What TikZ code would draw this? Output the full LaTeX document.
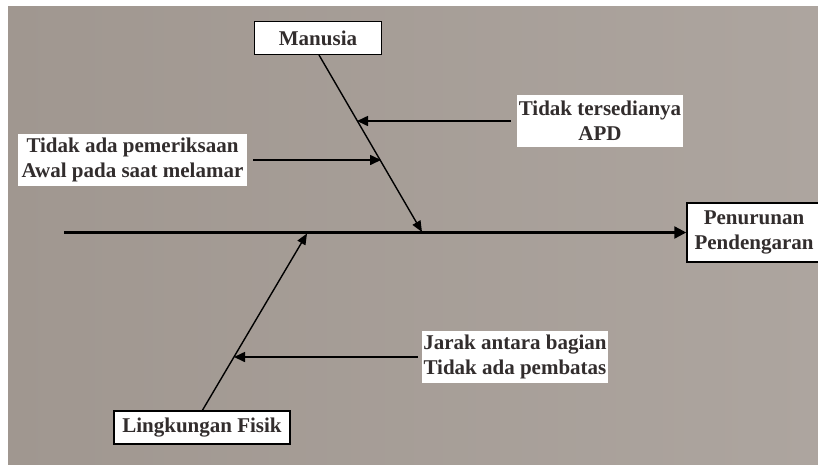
\documentclass[tikz,border=0pt]{standalone}
\usepackage{fontspec}
\setmainfont{Liberation Serif}
\usetikzlibrary{arrows.meta,calc}
\definecolor{bgleft}{RGB}{160,151,144}
\definecolor{bgright}{RGB}{173,165,159}
\definecolor{inkc}{RGB}{50,45,45}
\tikzset{
  lbl/.style={font=\fontsize{21}{25}\selectfont\bfseries, text=inkc, align=center, inner sep=0pt},
  framed/.style={lbl, fill=white, draw=black, line width=1.5pt},
  plain/.style={lbl, fill=white},
  bone/.style={line width=1.4pt, -{Triangle[length=11pt,width=9pt]}},
  twig/.style={line width=1.6pt, -{Triangle[length=11pt,width=10pt]}},
  spine/.style={line width=2.4pt, -{Triangle[length=12pt,width=12pt]}}
}
\begin{document}
\begin{tikzpicture}[x=1pt,y=-1pt]
  \useasboundingbox (0,0) rectangle (818,464);
  \clip (0,0) rectangle (818,464);
  % page and backdrop
  \fill[white] (0,0) rectangle (818,464);
  \shade[left color=bgleft, right color=bgright] (8,6) rectangle (818,464);

  % category and effect boxes
  \node[framed, minimum width=127pt, minimum height=33pt] (man) at (318,38) {Manusia};
  \node[framed, minimum width=176pt, minimum height=33pt] (lin) at (202,427.5) {Lingkungan Fisik};
  \node[framed, minimum width=134pt, minimum height=59pt] (eff) at (754,232.5) {Penurunan\\Pendengaran};

  % cause labels
  \node[plain, minimum width=166pt, minimum height=52pt] (apd) at (600,121) {Tidak tersedianya\\APD};
  \node[plain, minimum width=229pt, minimum height=52pt] (cek) at (132.5,160) {Tidak ada pemeriksaan\\Awal pada saat melamar};
  \node[plain, minimum width=186pt, minimum height=52pt] (jar) at (515,357) {Jarak antara bagian\\Tidak ada pembatas};

  % spine and bone end points
  \coordinate (tail) at (64,232.5);
  \coordinate (mtip) at (422,232);
  \coordinate (ltip) at (307,233.5);
  \coordinate (mtop) at (319,55);
  \coordinate (lbot) at (202,411);
  \coordinate (c1) at (357,121);
  \coordinate (c2) at (381,160);
  \coordinate (c3) at (234,357);

  % spine
  \draw[spine] (tail) -- (eff.west);
  % bones
  \draw[bone] (mtop) -- (mtip);
  \draw[bone] (lbot) -- (ltip);
  % causes
  \draw[twig, shorten <=6pt] (apd.west) -- (c1);
  \draw[twig, shorten <=6pt] (cek.east) -- (c2);
  \draw[twig, shorten <=4pt] (jar.west) -- (c3);
\end{tikzpicture}
\end{document}
